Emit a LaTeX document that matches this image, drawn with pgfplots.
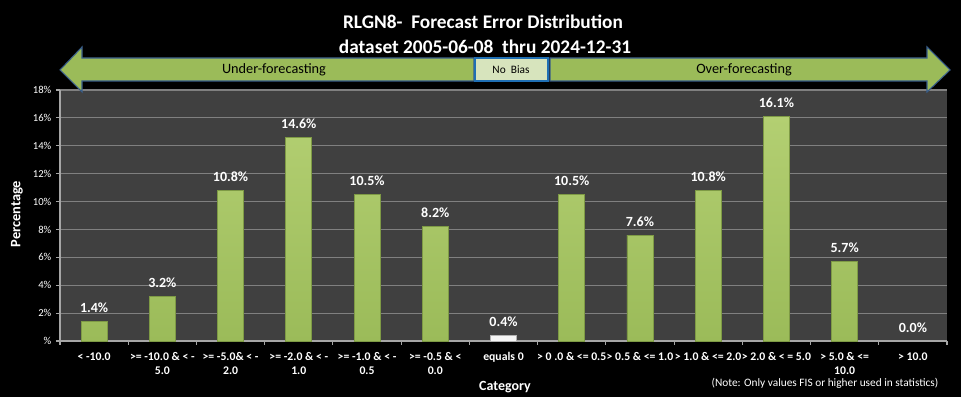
\documentclass[border=0pt]{standalone}
\usepackage{fontspec}
\setmainfont{Carlito}
\usepackage{pgfplots}
\pgfplotsset{compat=1.18}
\definecolor{bargreen}{HTML}{9BBB59}
\definecolor{bargreenD}{HTML}{7E9A45}
\definecolor{bargreenL}{HTML}{B3CF72}
\definecolor{plotgray}{HTML}{404040}
\definecolor{gridgray}{HTML}{808080}
\definecolor{axisgray}{HTML}{A6A6A6}
\definecolor{arrowborder}{HTML}{385D8A}
\definecolor{nobiasfill}{HTML}{D7E4BD}
\definecolor{nobiasborder}{HTML}{1F6FB4}
\begin{document}
\begin{tikzpicture}[x=0.75pt,y=0.75pt]
\fill[black] (0,0) rectangle (961,397);
\begin{axis}[
  at={(45pt,42pt)}, anchor=south west, scale only axis,
  width=665.25pt, height=188.25pt,
  xmin=-0.5, xmax=12.5, ymin=0, ymax=18,
  axis background/.style={fill=plotgray},
  axis lines*=left,
  axis line style={-, draw=axisgray, line width=0.8pt},
  tick style={draw=axisgray, line width=0.8pt},
  tick align=outside,
  major tick length=3pt,
  ytick={0,2,...,18},
  yticklabels={\%,2\%,4\%,6\%,8\%,10\%,12\%,14\%,16\%,18\%},
  yticklabel style={font=\fontsize{8}{9}\selectfont, text=white},
  ymajorgrids,
  grid style={draw=gridgray, line width=0.9pt},
  xtick={-0.5,0.5,...,12.5},
  xticklabels={},
  extra x ticks={0,1,...,12},
  extra x tick style={major tick length=0pt, grid=none},
  extra x tick labels={
    {< -10.0},
    {>= -10.0 \& < -\\5.0},
    {>= -5.0\& < -\\2.0},
    {>= -2.0 \& < -\\1.0},
    {>= -1.0 \& < -\\0.5},
    {>= -0.5 \& <\\0.0},
    {equals 0},
    {> 0 .0 \& <= 0.5},
    {> 0.5 \& <= 1.0},
    {> 1.0 \& <= 2.0},
    {> 2.0 \& < = 5.0},
    {> 5.0 \& <=\\10.0},
    {> 10.0}},
  xticklabel style={font=\bfseries\fontsize{8.8}{10.5}\selectfont, text=white, align=center, yshift=-5pt},
  ybar, bar width=19.5pt, bar shift=0pt,
  /pgf/number format/assume math mode=true,
  nodes near coords={\pgfmathprintnumber[fixed,fixed zerofill,precision=1]{\pgfplotspointmeta}\%},
  every node near coord/.append style={font=\bfseries\fontsize{10.5}{12}\selectfont, text=white, yshift=3pt},
  clip=false,
]
\addplot[draw=bargreenD, line width=0.5pt, top color=bargreenL, bottom color=bargreen]
  coordinates {(0,1.4) (1,3.2) (2,10.8) (3,14.6) (4,10.5) (5,8.2) (7,10.5) (8,7.6) (9,10.8) (10,16.1) (11,5.7)};
\addplot[draw=gray!60, line width=0.5pt, fill=white!92!gray]
  coordinates {(6,0.4)};
\addplot[draw=none, fill=none]
  coordinates {(12,0.0)};
\end{axis}
% arrows
\filldraw[fill=bargreen, draw=arrowborder, line width=0.8pt]
  (60,397-70) -- (82,397-47) -- (82,397-58) -- (474,397-58) -- (474,397-81) -- (82,397-81) -- (82,397-92) -- cycle;
\filldraw[fill=bargreen, draw=arrowborder, line width=0.8pt]
  (550,397-58) -- (927,397-58) -- (927,397-47) -- (950,397-70) -- (927,397-92) -- (927,397-81) -- (550,397-81) -- cycle;
\filldraw[fill=nobiasfill, draw=nobiasborder, line width=1.3pt]
  (475,397-58) rectangle (548,397-81);
\node[font=\fontsize{10.7}{12}\selectfont, text=black] at (274,397-70) {Under-forecasting};
\node[font=\fontsize{10.7}{12}\selectfont, text=black] at (744,397-70) {Over-forecasting};
\node[font=\fontsize{8.5}{10}\selectfont, text=black] at (511,397-70) {No\ \ Bias};
% titles
\node[font=\bfseries\fontsize{14.5}{18}\selectfont, text=white] at (483,397-22) {RLGN8-\ \ Forecast Error Distribution};
\node[font=\bfseries\fontsize{14.5}{18}\selectfont, text=white] at (485,397-47) {dataset 2005-06-08\ \ thru 2024-12-31};
% axis titles
\node[font=\bfseries\fontsize{10.8}{12}\selectfont, text=white, rotate=90] at (17,397-214) {Percentage};
\node[font=\bfseries\fontsize{10.5}{12}\selectfont, text=white] at (505,397-387) {Category};
\node[font=\fontsize{8.5}{10}\selectfont, text=white] at (825,397-383) {(Note: Only values FIS or higher used in statistics)};
\end{tikzpicture}
\end{document}
